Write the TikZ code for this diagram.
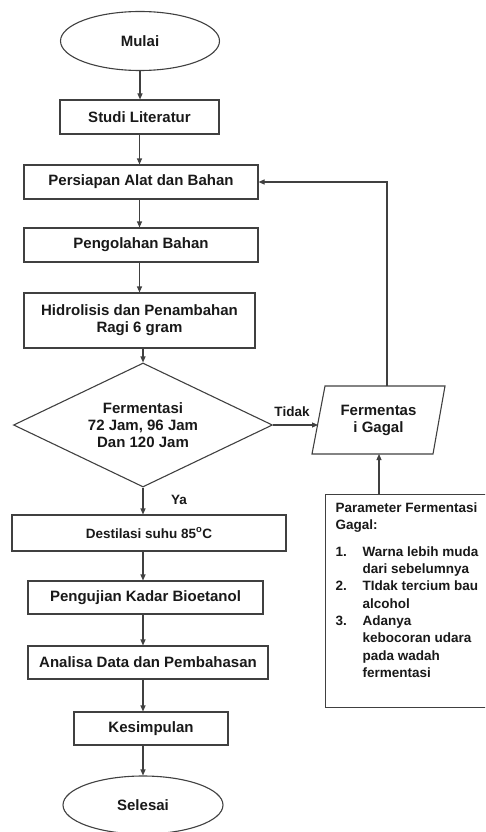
\documentclass[tikz,border=0pt]{standalone}
\usepackage{fontspec}
\setmainfont{Liberation Sans}
\usetikzlibrary{shapes.geometric,arrows.meta}
\begin{document}
\begin{tikzpicture}[x=1pt,y=-1pt,
  line width=1.1pt,
  every node/.style={font=\fontsize{15}{17}\selectfont\bfseries, text=black!90},
  box/.style={draw=black!75, rectangle, inner sep=0pt, align=center},
  term/.style={draw=black!75, ellipse, inner sep=0pt},
  dec/.style={draw=black!75, diamond, aspect=2.1, inner sep=0pt, align=center},
  arr/.style={draw=black!75, -{Triangle[length=6pt,width=5pt]}},
  lbl/.style={font=\fontsize{13.5}{16}\selectfont\bfseries}]
\useasboundingbox (0,0) rectangle (485,832);
\clip (0,0) rectangle (485,832);

\node[term, minimum width=159, minimum height=59] (mulai) at (140,41) {Mulai};
\node[box, minimum width=159, minimum height=34] (studi) at (139.5,117) {Studi Literatur};
\node[box, minimum width=234, minimum height=34] (siap) at (141,182) {Persiapan Alat dan Bahan};
\node[box, minimum width=234, minimum height=34] (olah) at (141,245) {Pengolahan Bahan};
\node[box, minimum width=231, minimum height=55] (hidro) at (139.5,320.5) {Hidrolisis dan Penambahan\\Ragi 6 gram};
\node[dec, minimum width=259, minimum height=124] (dia) at (143,425) {Fermentasi\\72 Jam, 96 Jam\\Dan 120 Jam};
\node[box, minimum width=274, minimum height=36, lbl] (dest) at (149,533) {Destilasi suhu 85\textsuperscript{o}C};
\node[box, minimum width=235, minimum height=33] (uji) at (145.5,597.5) {Pengujian Kadar Bioetanol};
\node[box, minimum width=240, minimum height=33] (anal) at (148,662.5) {Analisa Data dan Pembahasan};
\node[box, minimum width=154, minimum height=33] (simp) at (151,728.5) {Kesimpulan};
\node[term, minimum width=160, minimum height=58] (selesai) at (143,805) {Selesai};

% parallelogram
\node[align=center] (gagal) at (378.5,420) {Fermentas\\i Gagal};
\draw[draw=black!75] (325,386) -- (445,386) -- (433,454) -- (312,454) -- cycle;
\coordinate (gL) at (318,425);
\coordinate (gT) at (387,386);
\coordinate (gB) at (379,454);

% parameter box
\node[draw=black!75, rectangle, inner sep=0pt, minimum width=170, minimum height=213, anchor=north west] (param) at (325,494) {};
\node[anchor=north west, align=left, inner sep=0pt, font=\fontsize{13.5}{17.3}\selectfont\bfseries] (ptext) at (335,500) {%
\begin{tabular}{@{}p{27pt}@{}l@{}}
\multicolumn{2}{@{}l@{}}{Parameter Fermentasi}\\
\multicolumn{2}{@{}l@{}}{Gagal:}\\[9pt]
1. & Warna lebih muda\\
   & dari sebelumnya\\
2. & TIdak tercium bau\\
   & alcohol\\
3. & Adanya\\
   & kebocoran udara\\
   & pada wadah\\
   & fermentasi
\end{tabular}};
\coordinate (pT) at (379,494);

% connectors
\draw[arr] (mulai.south) -- (mulai.south |- studi.north);
\draw[arr] (studi.south) -- (studi.south |- siap.north);
\draw[arr] (siap.south -| studi.south) -- (studi.south |- olah.north);
\draw[arr] (olah.south -| studi.south) -- (studi.south |- hidro.north);
\draw[arr] (hidro.south -| dia.north) -- (dia.north);
\draw[arr] (dia.south) -- (dia.south |- dest.north);
\draw[arr] (dest.south -| dia.south) -- (dia.south |- uji.north);
\draw[arr] (uji.south -| dia.south) -- (dia.south |- anal.north);
\draw[arr] (anal.south -| dia.south) -- (dia.south |- simp.north);
\draw[arr] (simp.south -| dia.south) -- (dia.south |- selesai.north);
\draw[arr] (dia.east) -- (gL);
\draw[arr] (gT) |- (siap.east);
\draw[arr] (pT) -- (gB);

\node[lbl] (tidak) at (292,412) {Tidak};
\node[lbl] (ya) at (179,500) {Ya};
\end{tikzpicture}
\end{document}
